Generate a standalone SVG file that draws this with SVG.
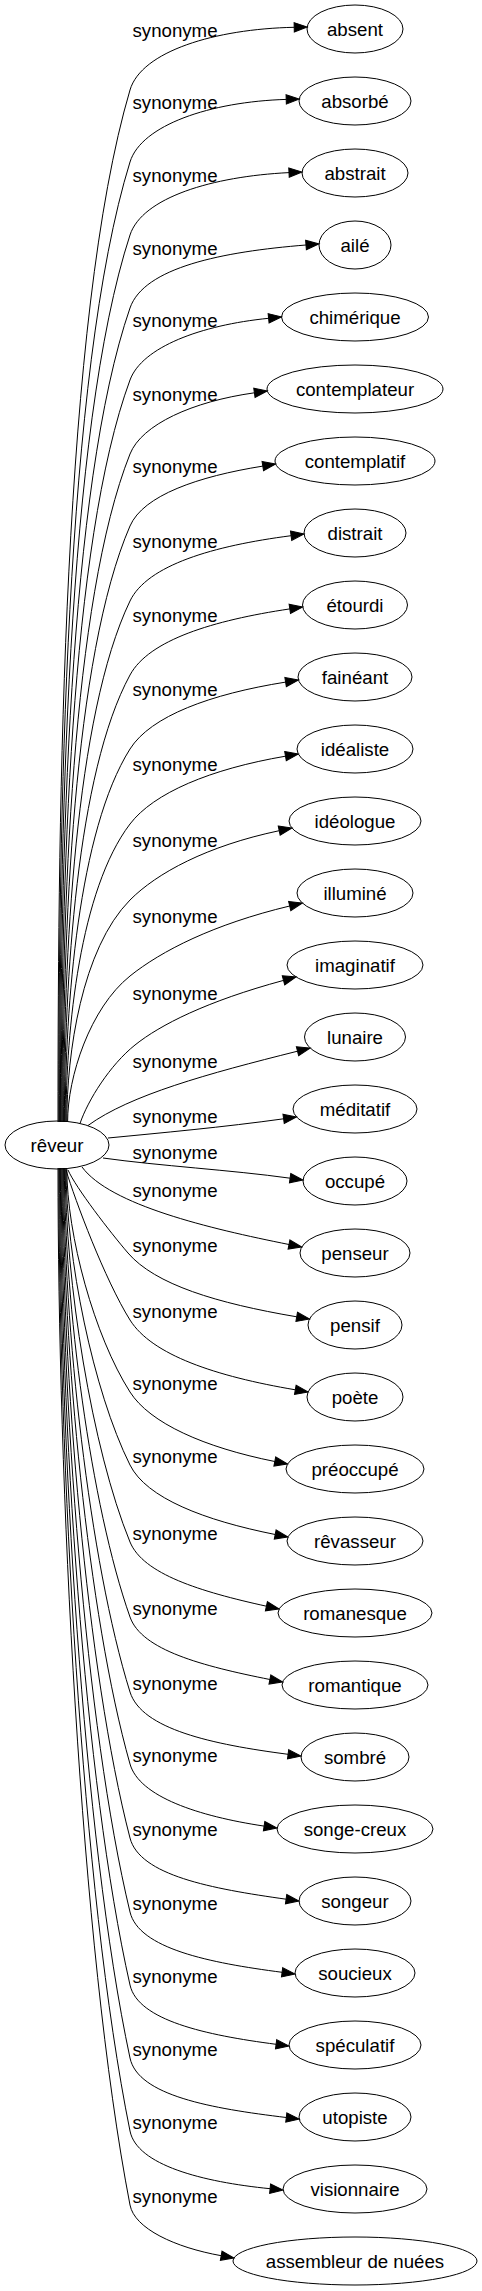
<svg xmlns="http://www.w3.org/2000/svg" width="482" height="2291" viewBox="0 0 482 2291">
<style>
text{font-family:"Liberation Sans",Arial,sans-serif;font-size:18.67px;fill:#000;text-anchor:middle}
.node ellipse{fill:none;stroke:#000;stroke-width:1}
#edges path{fill:none;stroke:#000;stroke-width:1;marker-end:url(#arr)}
</style>
<defs>
<marker id="arr" markerUnits="userSpaceOnUse" viewBox="0 0 15 11" markerWidth="15" markerHeight="11" refX="1" refY="5.5" orient="auto" overflow="visible">
<path d="M1,0.8 L14,5.5 L1,10.2 Z" fill="#000" stroke="#000" stroke-width="1"/>
</marker>
</defs>
<rect width="482" height="2291" fill="#fff"/>
<g id="edges">
<g id="e0"><path d="M58,1122 C58,802.1 63,317 130,90 C141.4,51.3 215.1,28.9 294.2,27.3"/><text x="175" y="37">synonyme</text></g>
<g id="e1"><path d="M58.8,1122 C58.8,824.4 64.7,373.2 130,162 C141.4,125 210.5,101.7 286.2,99.4"/><text x="175" y="109">synonyme</text></g>
<g id="e2"><path d="M59.6,1122 C59.6,847 66.4,430.1 130,235 C142.2,197.6 212.2,176.4 289,172.6"/><text x="175" y="182">synonyme</text></g>
<g id="e3"><path d="M60.4,1122 C60.4,869.7 68.1,487.1 130,308 C144,267.4 222.2,251.7 306,245"/><text x="175" y="255">synonyme</text></g>
<g id="e4"><path d="M61.2,1122 C61.2,892 69.8,543.2 130,380 C142.1,347.2 200.6,325.1 268.6,318.3"/><text x="175" y="327">synonyme</text></g>
<g id="e5"><path d="M62,1122 C62,914.9 71.5,601 130,454 C141.8,424.4 192.6,401.5 254.4,392.8"/><text x="175" y="401">synonyme</text></g>
<g id="e6"><path d="M62.8,1122 C62.8,937.2 73.2,657.1 130,526 C143.3,495.3 198,476.5 262.8,466.1"/><text x="175" y="473">synonyme</text></g>
<g id="e7"><path d="M63.6,1122 C63.6,960.5 74.9,715.6 130,601 C147.3,565 213.5,545.8 291.1,535.7"/><text x="175" y="548">synonyme</text></g>
<g id="e8"><path d="M64.4,1122 C64.4,983.4 76.6,773.3 130,675 C149,640 212.9,620.4 289.8,608.9"/><text x="175" y="622">synonyme</text></g>
<g id="e9"><path d="M65.2,1122 C65.2,1006.4 78.3,831.1 130,749 C150.8,716 210.4,694.1 285.6,682.1"/><text x="175" y="696">synonyme</text></g>
<g id="e10"><path d="M66,1122 C66,1029.6 80,889.6 130,824 C153.6,793 210.3,769 285.5,756.2"/><text x="175" y="771">synonyme</text></g>
<g id="e11"><path d="M66.8,1122 C66.8,1053.2 81.7,948.8 130,900 C156.6,873.2 206.8,845.9 279.2,830.7"/><text x="175" y="847">synonyme</text></g>
<g id="e12"><path d="M67.6,1122 C67.6,1076.7 90,1008.1 130,976 C161.3,950.9 213.4,924.3 289.7,906"/><text x="175" y="923">synonyme</text></g>
<g id="e13"><path d="M80,1123.5 C88,1100 110,1065 135,1045 C160,1025 206.3,1001.3 283.5,980.4"/><text x="175" y="1000">synonyme</text></g>
<g id="e14"><path d="M88,1125.5 C130,1095 207.5,1073.7 297.5,1051.2"/><text x="175" y="1068">synonyme</text></g>
<g id="e15"><path d="M108,1138 C160,1133 224.2,1127.1 283.6,1118.8"/><text x="175" y="1123">synonyme</text></g>
<g id="e16"><path d="M103,1158 C160,1166 230.7,1169.9 290.1,1178.2"/><text x="175" y="1159">synonyme</text></g>
<g id="e17"><path d="M82,1167 C110,1205 209,1228.5 289,1244.5"/><text x="175" y="1197">synonyme</text></g>
<g id="e18"><path d="M68,1170 C76,1188 110,1232 128,1253 C155,1284.5 216.6,1303.2 296.7,1316.8"/><text x="175" y="1252">synonyme</text></g>
<g id="e19"><path d="M66,1170 C75,1200 105,1280 130,1320 C151.9,1355 215.7,1376.3 295.3,1389.8"/><text x="175" y="1318">synonyme</text></g>
<g id="e20"><path d="M66.8,1168 C66.8,1235.2 94.3,1336 130,1392 C149.8,1423.1 203.9,1447.3 274.8,1461.5"/><text x="175" y="1390">synonyme</text></g>
<g id="e21"><path d="M66,1168 C66,1257.1 93,1390.75 130,1465 C146.5,1498.1 204.1,1520.3 275.2,1534.5"/><text x="175" y="1463">synonyme</text></g>
<g id="e22"><path d="M65.2,1168 C65.2,1280.2 91.7,1448.5 130,1542 C143.2,1574.1 200.1,1591.6 266.4,1606.2"/><text x="175" y="1540">synonyme</text></g>
<g id="e23"><path d="M64.4,1168 C64.4,1302.7 90.4,1504.75 130,1617 C141.7,1650.2 202.3,1666 269.9,1679.5"/><text x="175" y="1615">synonyme</text></g>
<g id="e24"><path d="M63.6,1168 C63.6,1325.2 89.1,1561 130,1692 C141.7,1729.3 212.2,1744.4 288.1,1754.3"/><text x="175" y="1690">synonyme</text></g>
<g id="e25"><path d="M62.8,1168 C62.8,1346.8 87.8,1615 130,1764 C139.3,1796.7 198.3,1816.2 264.1,1826.1"/><text x="175" y="1762">synonyme</text></g>
<g id="e26"><path d="M62,1168 C62,1369 86.5,1670.5 130,1838 C139.7,1875.4 211.3,1888.7 286.1,1899.2"/><text x="175" y="1836">synonyme</text></g>
<g id="e27"><path d="M61.2,1168 C61.2,1391.2 85.2,1726 130,1912 C138.8,1948.6 209.1,1962.8 282.1,1972.3"/><text x="175" y="1910">synonyme</text></g>
<g id="e28"><path d="M60.4,1168 C60.4,1413.1 83.9,1780.8 130,1985 C138,2020.4 205.7,2035.1 276.1,2044.3"/><text x="175" y="1983">synonyme</text></g>
<g id="e29"><path d="M59.6,1168 C59.6,1435 82.6,1835.5 130,2058 C138,2095.7 211.6,2108.5 286.3,2117.5"/><text x="175" y="2056">synonyme</text></g>
<g id="e30"><path d="M58.8,1168 C58.8,1456.9 81.3,1890.3 130,2131 C136.9,2165.1 202.2,2181.9 270.1,2188.7"/><text x="175" y="2129">synonyme</text></g>
<g id="e31"><path d="M58,1168 C58,1479.1 80,1945.8 130,2205 C134.5,2228.6 174.9,2247.4 221.2,2255.7"/><text x="175" y="2203">synonyme</text></g>
</g>
<g id="n-reveur" class="node"><ellipse cx="57" cy="1145" rx="52" ry="24"/><text x="57" y="1151.5">rêveur</text></g>
<g id="n0" class="node"><ellipse cx="355" cy="29" rx="48" ry="24"/><text x="355" y="35.5">absent</text></g>
<g id="n1" class="node"><ellipse cx="355" cy="101" rx="56" ry="24"/><text x="355" y="107.5">absorbé</text></g>
<g id="n2" class="node"><ellipse cx="355" cy="173" rx="53" ry="24"/><text x="355" y="179.5">abstrait</text></g>
<g id="n3" class="node"><ellipse cx="355" cy="245" rx="36" ry="24"/><text x="355" y="251.5">ailé</text></g>
<g id="n4" class="node"><ellipse cx="355" cy="317" rx="73.5" ry="24"/><text x="355" y="323.5">chimérique</text></g>
<g id="n5" class="node"><ellipse cx="355" cy="389" rx="88" ry="24"/><text x="355" y="395.5">contemplateur</text></g>
<g id="n6" class="node"><ellipse cx="355" cy="461" rx="80" ry="24"/><text x="355" y="467.5">contemplatif</text></g>
<g id="n7" class="node"><ellipse cx="355" cy="533" rx="51" ry="24"/><text x="355" y="539.5">distrait</text></g>
<g id="n8" class="node"><ellipse cx="355" cy="605" rx="52.5" ry="24"/><text x="355" y="611.5">étourdi</text></g>
<g id="n9" class="node"><ellipse cx="355" cy="677" rx="57" ry="24"/><text x="355" y="683.5">fainéant</text></g>
<g id="n10" class="node"><ellipse cx="355" cy="749" rx="58" ry="24"/><text x="355" y="755.5">idéaliste</text></g>
<g id="n11" class="node"><ellipse cx="355" cy="821" rx="66" ry="24"/><text x="355" y="827.5">idéologue</text></g>
<g id="n12" class="node"><ellipse cx="355" cy="893" rx="58" ry="24"/><text x="355" y="899.5">illuminé</text></g>
<g id="n13" class="node"><ellipse cx="355" cy="965" rx="68" ry="24"/><text x="355" y="971.5">imaginatif</text></g>
<g id="n14" class="node"><ellipse cx="355" cy="1037" rx="50.5" ry="24"/><text x="355" y="1043.5">lunaire</text></g>
<g id="n15" class="node"><ellipse cx="355" cy="1109" rx="62" ry="24"/><text x="355" y="1115.5">méditatif</text></g>
<g id="n16" class="node"><ellipse cx="355" cy="1181" rx="52" ry="24"/><text x="355" y="1187.5">occupé</text></g>
<g id="n17" class="node"><ellipse cx="355" cy="1253" rx="55" ry="24"/><text x="355" y="1259.5">penseur</text></g>
<g id="n18" class="node"><ellipse cx="355" cy="1325" rx="47" ry="24"/><text x="355" y="1331.5">pensif</text></g>
<g id="n19" class="node"><ellipse cx="355" cy="1397" rx="48" ry="24"/><text x="355" y="1403.5">poète</text></g>
<g id="n20" class="node"><ellipse cx="355" cy="1469" rx="69" ry="24"/><text x="355" y="1475.5">préoccupé</text></g>
<g id="n21" class="node"><ellipse cx="355" cy="1541" rx="68" ry="24"/><text x="355" y="1547.5">rêvasseur</text></g>
<g id="n22" class="node"><ellipse cx="355" cy="1613" rx="77" ry="24"/><text x="355" y="1619.5">romanesque</text></g>
<g id="n23" class="node"><ellipse cx="355" cy="1685" rx="73" ry="24"/><text x="355" y="1691.5">romantique</text></g>
<g id="n24" class="node"><ellipse cx="355" cy="1757" rx="54" ry="24"/><text x="355" y="1763.5">sombré</text></g>
<g id="n25" class="node"><ellipse cx="355" cy="1829" rx="78" ry="24"/><text x="355" y="1835.5">songe-creux</text></g>
<g id="n26" class="node"><ellipse cx="355" cy="1901" rx="56" ry="24"/><text x="355" y="1907.5">songeur</text></g>
<g id="n27" class="node"><ellipse cx="355" cy="1973" rx="60" ry="24"/><text x="355" y="1979.5">soucieux</text></g>
<g id="n28" class="node"><ellipse cx="355" cy="2045" rx="66" ry="24"/><text x="355" y="2051.5">spéculatif</text></g>
<g id="n29" class="node"><ellipse cx="355" cy="2117" rx="56" ry="24"/><text x="355" y="2123.5">utopiste</text></g>
<g id="n30" class="node"><ellipse cx="355" cy="2189" rx="72" ry="24"/><text x="355" y="2195.5">visionnaire</text></g>
<g id="n31" class="node"><ellipse cx="355" cy="2261" rx="122" ry="24"/><text x="355" y="2267.5">assembleur de nuées</text></g>
</svg>
